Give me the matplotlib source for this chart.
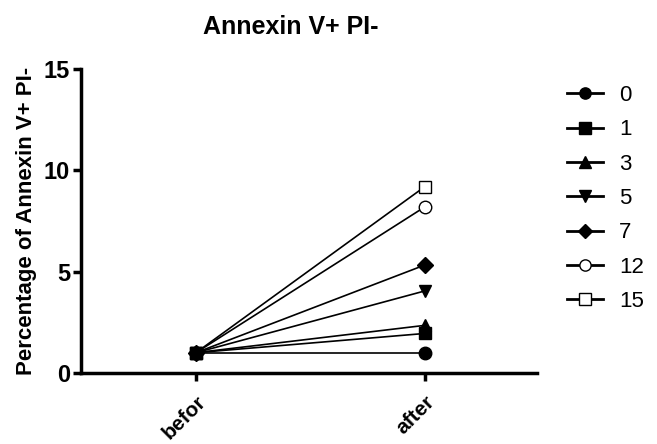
import numpy as np
import matplotlib
matplotlib.use('Agg')
import matplotlib.pyplot as plt

plt.rcParams['font.family'] = ['Liberation Sans', 'DejaVu Sans']

# data
conditions = ['befor', 'after']
groups = ['0', '1', '3', '5', '7', '12', '15']
befor_vals = [1.0, 1.0, 1.0, 1.0, 1.0, 1.0, 1.0]
after_vals = [1.0, 1.95, 2.35, 4.05, 5.33, 8.2, 9.2]
markers = ['o', 's', '^', 'v', 'D', 'o', 's']
filled = [True, True, True, True, True, False, False]

fig = plt.figure(figsize=(6.57, 4.44), dpi=100)
ax = fig.add_axes([0.1233, 0.16, 0.694, 0.6846])

x = np.arange(len(conditions))
for i, g in enumerate(groups):
    ms = 8 if markers[i] == 'D' else 9
    # filled markers sit on top of the open ones at the shared start point
    ax.plot(x, [befor_vals[i], after_vals[i]], color='black', linewidth=1.2,
            marker=markers[i], markersize=ms,
            markerfacecolor='black' if filled[i] else 'white',
            markeredgecolor='black', markeredgewidth=1.0, label=g,
            zorder=3 if filled[i] else 2)

ax.set_xlim(-0.502, 1.489)
ax.set_ylim(0, 15)
ax.set_yticks([0, 5, 10, 15])
ax.set_xticks(x)
ax.set_xticklabels(conditions, rotation=45, ha='right', rotation_mode='anchor',
                   fontsize=15, fontweight='bold')
for lab in ax.get_yticklabels():
    lab.set_fontsize(17)
    lab.set_fontweight('bold')

for side in ['top', 'right']:
    ax.spines[side].set_visible(False)
for side in ['left', 'bottom']:
    ax.spines[side].set_linewidth(2.5)
ax.tick_params(axis='both', width=2.5, length=6, direction='out')
ax.tick_params(axis='y', pad=2)
ax.tick_params(axis='x', pad=8)

ax.set_ylabel('Percentage of Annexin V+ PI-', fontsize=16, fontweight='bold', labelpad=5)
fig.text(0.442, 0.94, 'Annexin V+ PI-', ha='center', va='center',
         fontsize=18, fontweight='bold')

leg = ax.legend(loc='upper left', bbox_to_anchor=(1.066, 0.947), frameon=False,
                fontsize=16, markerscale=0.9, handlelength=1.6, borderpad=0,
                borderaxespad=0, labelspacing=0.6, handletextpad=0.75)
for h in leg.get_lines():
    h.set_linewidth(2.0)

plt.savefig('out.png', dpi=100)
